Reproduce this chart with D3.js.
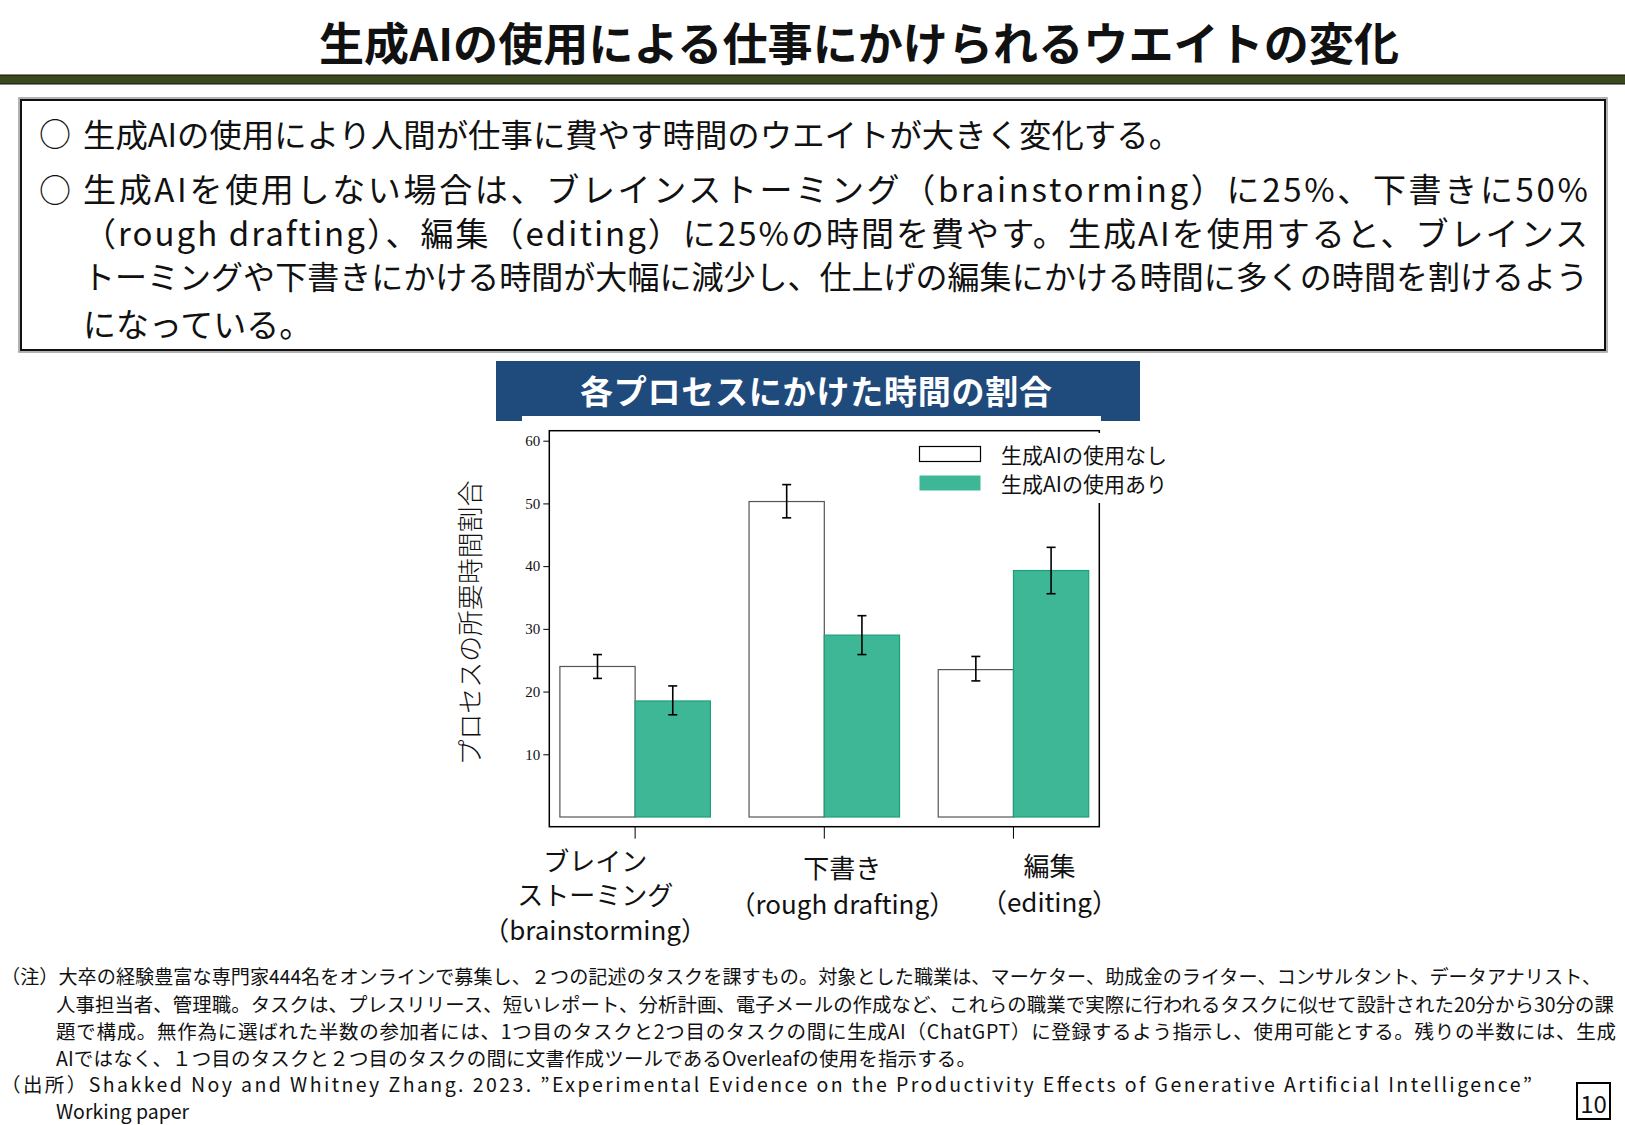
<!DOCTYPE html>
<html>
<head>
<meta charset="utf-8">
<script src="https://cdn.jsdelivr.net/npm/d3@7"></script>
<style>
  html, body { margin: 0; padding: 0; background: #fff; }
  svg { display: block; }
  text { font-family: "Noto Sans CJK JP", "Noto Sans", sans-serif; fill: #111; }
</style>
</head>
<body>
<div id="chart"></div>
<script>
// chart data
const categories = ["brainstorming", "drafting", "editing"];
const categoryLabels = [
  ["ブレイン", "ストーミング", "（brainstorming）"],
  ["下書き", "（rough drafting）"],
  ["編集", "（editing）"],
];
const seriesNames = ["生成AIの使用なし", "生成AIの使用あり"];
const noAiValues = [24.0, 50.3, 23.5];
const noAiLow = [22.1, 47.7, 21.7];
const noAiHigh = [25.9, 53.0, 25.6];
const aiValues = [18.5, 29.0, 39.3];
const aiLow = [16.3, 25.9, 35.6];
const aiHigh = [20.9, 32.1, 43.0];
const yTicks = [10, 20, 30, 40, 50, 60];

const titleText = "生成AIの使用による仕事にかけられるウエイトの変化";
const bodyLines = [
  "生成AIの使用により人間が仕事に費やす時間のウエイトが大きく変化する。",
  "生成AIを使用しない場合は、ブレインストーミング（brainstorming）に25%、下書きに50%",
  "（rough  drafting）、編集（editing）に25%の時間を費やす。生成AIを使用すると、ブレインス",
  "トーミングや下書きにかける時間が大幅に減少し、仕上げの編集にかける時間に多くの時間を割けるよう",
  "になっている。",
];
const chartTitle = "各プロセスにかけた時間の割合";
const yLabel = "プロセスの所要時間割合";
const noteLines = [
  "（注）大卒の経験豊富な専門家444名をオンラインで募集し、２つの記述のタスクを課すもの。対象とした職業は、マーケター、助成金のライター、コンサルタント、データアナリスト、",
  "人事担当者、管理職。タスクは、プレスリリース、短いレポート、分析計画、電子メールの作成など、これらの職業で実際に行われるタスクに似せて設計された20分から30分の課",
  "題で構成。無作為に選ばれた半数の参加者には、1つ目のタスクと2つ目のタスクの間に生成AI（ChatGPT）に登録するよう指示し、使用可能とする。残りの半数には、生成",
  "AIではなく、１つ目のタスクと２つ目のタスクの間に文書作成ツールであるOverleafの使用を指示する。",
  "（出所）Shakked Noy and Whitney Zhang. 2023. ”Experimental Evidence on the Productivity Effects of Generative Artificial Intelligence”",
  "Working paper",
];
const pageNumber = "10";

const GREEN = "#3db796";

const svg = d3.select("#chart").append("svg")
  .attr("width", 1625).attr("height", 1125);

// fit a text line to the width seen on the slide:
// shrink the font if it is too wide, otherwise spread the letters
function fit(sel, w) {
  if (!w) return sel;
  const n = sel.node().getComputedTextLength();
  if (n > w) {
    const fs = parseFloat(sel.style("font-size"));
    sel.style("font-size", `${(fs * w) / n - 0.05}px`);
  }
  sel.attr("textLength", w).attr("lengthAdjust", "spacing");
  return sel;
}

// --- page header ---
fit(svg.append("text")
  .attr("x", 859).attr("y", 41)
  .attr("text-anchor", "middle").attr("dominant-baseline", "central")
  .style("font-size", "50px").style("font-weight", 700)
  .text(titleText), 1080);

svg.append("rect")
  .attr("x", -2).attr("y", 75).attr("width", 1630).attr("height", 9)
  .attr("fill", "#3b4a1e").attr("stroke", "#111").attr("stroke-width", 1);

// --- bullet box ---
svg.append("rect")
  .attr("x", 19).attr("y", 98).attr("width", 1588).attr("height", 254)
  .attr("fill", "none").attr("stroke", "#9a9a9a").attr("stroke-width", 1.5);
svg.append("rect")
  .attr("x", 21).attr("y", 100).attr("width", 1584).attr("height", 250)
  .attr("fill", "#fff").attr("stroke", "#111").attr("stroke-width", 2);

const lineY = [132, 188, 232, 275, 323];
const lineW = [1098, 1505, 1505, 1505, null];
bodyLines.forEach((t, i) => {
  fit(svg.append("text")
    .attr("x", 83).attr("y", lineY[i])
    .attr("dominant-baseline", "central")
    .style("font-size", "33px")
    .text(t), lineW[i]);
});
[0, 1].forEach((i) => {
  svg.append("text")
    .attr("x", 55).attr("y", lineY[i])
    .attr("text-anchor", "middle").attr("dominant-baseline", "central")
    .style("font-size", "32px")
    .text("○");
});

// --- chart heading ---
svg.append("rect")
  .attr("x", 496).attr("y", 361).attr("width", 644).attr("height", 60)
  .attr("fill", "#1f4a7c");
svg.append("rect")
  .attr("x", 522).attr("y", 416).attr("width", 579).attr("height", 10)
  .attr("fill", "#fff");
fit(svg.append("text")
  .attr("x", 816).attr("y", 390)
  .attr("text-anchor", "middle").attr("dominant-baseline", "central")
  .style("font-size", "33px").style("font-weight", 700).style("fill", "#fff")
  .text(chartTitle), 472);

// --- bar chart ---
const plot = { left: 549.3, right: 1099.3, top: 430.7, bottom: 826.7 };

const x0 = d3.scaleBand()
  .domain(categories)
  .range([plot.left, plot.right])
  .paddingInner(0.2045)
  .paddingOuter(0.056);
const x1 = d3.scaleBand()
  .domain([0, 1])
  .range([0, x0.bandwidth()]);
const y = d3.scaleLinear().domain([0, 60]).range([817, 440.7]);

const rows = categories.map((c, i) => ({
  cat: c,
  bars: [
    { s: 0, v: noAiValues[i], lo: noAiLow[i], hi: noAiHigh[i] },
    { s: 1, v: aiValues[i], lo: aiLow[i], hi: aiHigh[i] },
  ],
}));

const groups = svg.append("g").selectAll("g")
  .data(rows)
  .join("g")
  .attr("transform", (d) => `translate(${x0(d.cat)},0)`);

groups.selectAll("rect")
  .data((d) => d.bars)
  .join("rect")
  .attr("x", (d) => x1(d.s))
  .attr("y", (d) => y(d.v))
  .attr("width", x1.bandwidth())
  .attr("height", (d) => y(0) - y(d.v))
  .attr("fill", (d) => (d.s === 0 ? "#fff" : GREEN))
  .attr("stroke", (d) => (d.s === 0 ? "#555" : "#1f9e7a"))
  .attr("stroke-width", 1.2);

// error bars
const cap = 4.5;
const eb = groups.selectAll("g.err")
  .data((d) => d.bars)
  .join("g")
  .attr("class", "err")
  .attr("transform", (d) => `translate(${x1(d.s) + x1.bandwidth() / 2},0)`)
  .attr("stroke", "#000").attr("stroke-width", 1.6);
eb.append("line").attr("y1", (d) => y(d.lo)).attr("y2", (d) => y(d.hi));
eb.append("line").attr("x1", -cap).attr("x2", cap).attr("y1", (d) => y(d.hi)).attr("y2", (d) => y(d.hi));
eb.append("line").attr("x1", -cap).attr("x2", cap).attr("y1", (d) => y(d.lo)).attr("y2", (d) => y(d.lo));

// frame
svg.append("rect")
  .attr("x", plot.left).attr("y", plot.top)
  .attr("width", plot.right - plot.left).attr("height", plot.bottom - plot.top)
  .attr("fill", "none").attr("stroke", "#000").attr("stroke-width", 1.5);

// y axis
const yAxis = svg.append("g")
  .attr("transform", `translate(${plot.left},0)`)
  .call(d3.axisLeft(y).tickValues(yTicks).tickSize(6).tickPadding(3));
yAxis.select(".domain").remove();
yAxis.selectAll("line").attr("stroke", "#000");
yAxis.selectAll("text")
  .style("font-family", '"Liberation Serif", "DejaVu Serif", serif')
  .style("font-size", "15px").attr("fill", "#222");

// x axis ticks
const xAxis = svg.append("g")
  .attr("transform", `translate(0,${plot.bottom})`)
  .call(d3.axisBottom(x0).tickSize(12).tickFormat(""));
xAxis.select(".domain").remove();
xAxis.selectAll("line").attr("stroke", "#000");

// category labels (placed as on the slide, slightly off the ticks)
const labelDx = [-40, 18, 36];
const labelY = [[859, 893, 928], [866, 902], [864, 900]];
categoryLabels.forEach((lines, i) => {
  const cx = x0(categories[i]) + x0.bandwidth() / 2 + labelDx[i];
  lines.forEach((t, j) => {
    svg.append("text")
      .attr("x", cx).attr("y", labelY[i][j])
      .attr("text-anchor", "middle").attr("dominant-baseline", "central")
      .style("font-size", "26px")
      .text(t);
  });
});

// y label
fit(svg.append("text")
  .attr("transform", "translate(468,623) rotate(-90)")
  .attr("text-anchor", "middle").attr("dominant-baseline", "central")
  .style("font-size", "28px").style("font-weight", 300)
  .text(yLabel), 285);

// legend
svg.append("rect")
  .attr("x", 905).attr("y", 433).attr("width", 275).attr("height", 70)
  .attr("fill", "#fff");
const legY = [454, 483];
seriesNames.forEach((name, i) => {
  svg.append("rect")
    .attr("x", 919.5).attr("y", legY[i] - 7.5).attr("width", 61).attr("height", 15)
    .attr("fill", i === 0 ? "#fff" : GREEN)
    .attr("stroke", i === 0 ? "#000" : "none").attr("stroke-width", 1.2);
  svg.append("text")
    .attr("x", 1001).attr("y", legY[i])
    .attr("dominant-baseline", "central")
    .style("font-size", "21px")
    .text(name);
});

// --- notes ---
const noteX = [1, 56, 56, 56, 1, 56];
const noteY = [976, 1003, 1030, 1057, 1083, 1110];
const noteW = [1600, 1558, 1560, 920, 1531, null];
noteLines.forEach((t, i) => {
  fit(svg.append("text")
    .attr("x", noteX[i]).attr("y", noteY[i])
    .attr("dominant-baseline", "central")
    .style("font-size", "19.5px")
    .text(t), noteW[i]);
});

// page number
svg.append("rect")
  .attr("x", 1577).attr("y", 1083).attr("width", 33).attr("height", 36)
  .attr("fill", "#fff").attr("stroke", "#000").attr("stroke-width", 2);
svg.append("text")
  .attr("x", 1593.5).attr("y", 1102)
  .attr("text-anchor", "middle").attr("dominant-baseline", "central")
  .style("font-size", "24px")
  .text(pageNumber);
</script>
</body>
</html>
